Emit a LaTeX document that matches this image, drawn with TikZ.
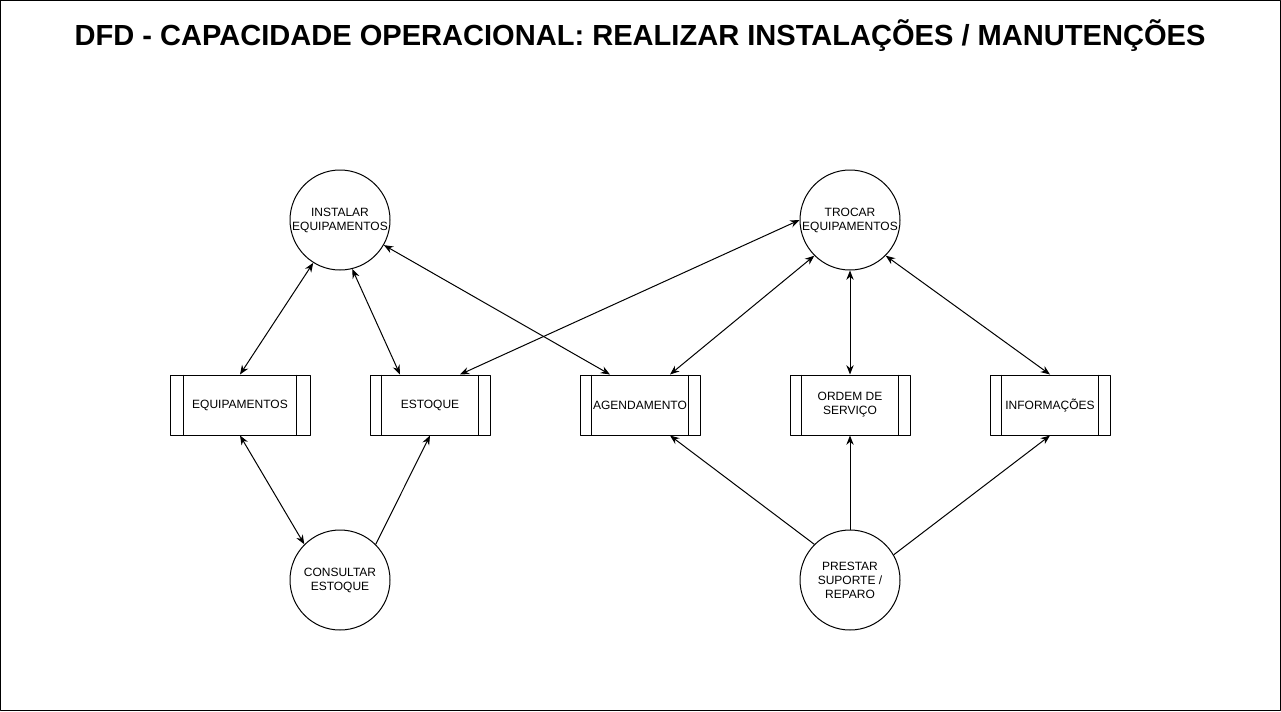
\documentclass[tikz,border=0pt]{standalone}
\usepackage{fontspec}
\setmainfont{Liberation Sans}
\usetikzlibrary{arrows.meta,calc}

\begin{document}
\begin{tikzpicture}[x=0.75pt, y=-0.75pt, line width=0.75pt, line join=round,
  >={Stealth[length=7pt,width=5.5pt]},
  processo/.style={draw, circle, minimum size=75pt, inner sep=0pt, align=center,
    font=\fontsize{9}{10.5}\selectfont},
  deposito/.style={draw, rectangle, minimum height=45pt, inner sep=0pt, align=center,
    font=\fontsize{9}{10.5}\selectfont},
  fluxo/.style={<->}]

% Moldura
\draw (0.5,0.5) rectangle (1280.5,710.5);
\useasboundingbox (0,0) rectangle (1281,711);

% Titulo
\node[font=\bfseries\fontsize{21.8}{26}\selectfont] (titulo) at (640,36)
  {DFD - CAPACIDADE OPERACIONAL: REALIZAR INSTALAÇÕES / MANUTENÇÕES};

% Processos
\node[processo] (inst) at (340,220) {INSTALAR\\EQUIPAMENTOS};
\node[processo] (troc) at (850,220) {TROCAR\\EQUIPAMENTOS};
\node[processo] (cons) at (340,580) {CONSULTAR\\ESTOQUE};
\node[processo] (prest) at (850,580) {PRESTAR\\SUPORTE /\\REPARO};

% Depositos de dados
\node[deposito, minimum width=105pt] (equip) at (240,405) {EQUIPAMENTOS};
\node[deposito, minimum width=90pt] (est) at (430,405) {ESTOQUE};
\node[deposito, minimum width=90pt] (agend) at (640,405) {AGENDAMENTO};
\node[deposito, minimum width=90pt] (ordem) at (850,405) {ORDEM DE\\SERVIÇO};
\node[deposito, minimum width=90pt] (info) at (1050,405) {INFORMAÇÕES};

% Linhas internas dos depositos
\foreach \n/\d in {equip/14, est/12, agend/12, ordem/12, info/12} {
  \draw ([xshift=\d*0.75pt]\n.north west) -- ([xshift=\d*0.75pt]\n.south west);
  \draw ([xshift=-\d*0.75pt]\n.north east) -- ([xshift=-\d*0.75pt]\n.south east);
}

% Fluxos de INSTALAR
\draw[fluxo] (inst.-122) -- (equip.north);
\draw[fluxo] (inst.-76) -- ($(est.north)+(-30,0)$);
\draw[fluxo] (inst) -- ($(agend.north)+(-30,0)$);

% Fluxos de TROCAR
\draw[fluxo] (troc.west) -- ($(est.north)+(30,0)$);
\draw[fluxo] (troc.south west) -- ($(agend.north)+(30,0)$);
\draw[fluxo] (troc.south) -- (ordem.north);
\draw[fluxo] (troc.south east) -- (info.north);

% Fluxos de CONSULTAR
\draw[fluxo] (equip.south) -- (cons.north west);
\draw[->] (cons.north east) -- (est.south);

% Fluxos de PRESTAR
\draw[->] (prest.north west) -- ($(agend.south)+(30,0)$);
\draw[->] (prest.north) -- (ordem.south);
\draw[->] (prest.30) -- (info.south);

\end{tikzpicture}
\end{document}
